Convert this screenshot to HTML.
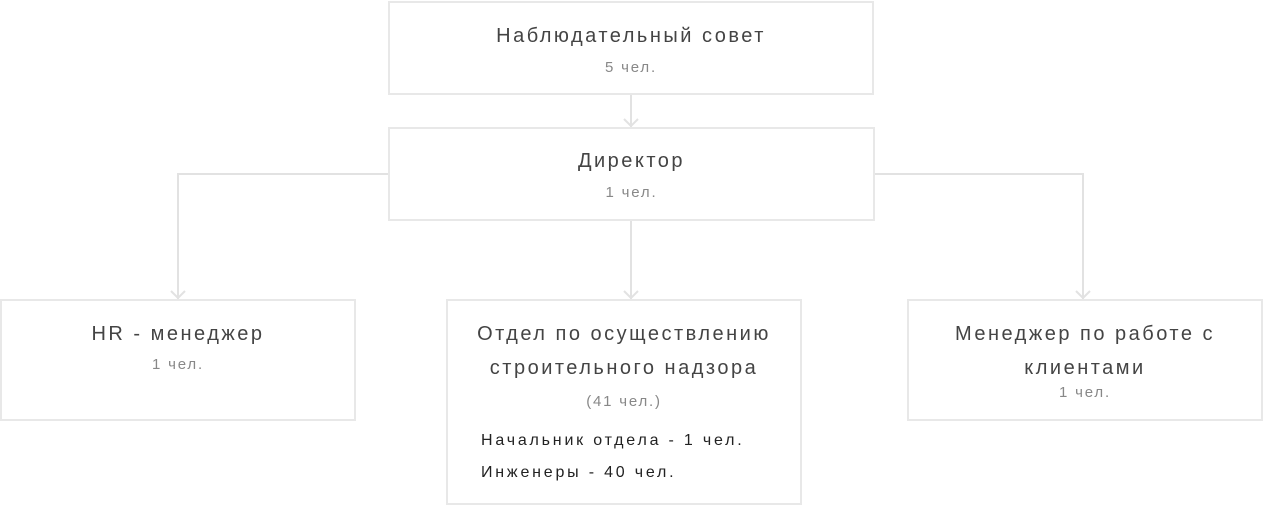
<!DOCTYPE html>
<html><head><meta charset="utf-8"><style>
html,body{margin:0;padding:0;background:#fff;width:1263px;height:506px;overflow:hidden;position:relative;font-family:"Liberation Sans","DejaVu Sans",sans-serif;}
.b{position:absolute;box-sizing:border-box;border:2px solid #e8e8e8;background:#fff;}
.t{position:absolute;left:0;right:0;text-align:center;color:#444;font-size:20px;letter-spacing:2.5px;line-height:24px;white-space:nowrap;}
.s{position:absolute;left:0;right:0;text-align:center;color:#888;font-size:15px;letter-spacing:1.8px;line-height:18px;}
.l{position:absolute;color:#222;font-size:16px;letter-spacing:2.8px;line-height:18px;white-space:nowrap;}
svg{position:absolute;left:0;top:0;}
</style></head><body>
<svg width="1263" height="506">
<g stroke="#e2e2e2" stroke-width="2" fill="none">
<path d="M631 94 V127"/><path d="M624 119 L631 126 L638 119"/>
<path d="M631 212 V299"/><path d="M624 291 L631 298 L638 291"/>
<path d="M388 174 H178 V299"/><path d="M171 291 L178 298 L185 291"/>
<path d="M874 174 H1083 V299"/><path d="M1076 291 L1083 298 L1090 291"/>
</g></svg>
<div class="b" style="left:388px;top:1px;width:486px;height:94px;">
<div class="t" style="top:21px">Наблюдательный совет</div>
<div class="s" style="top:56px">5 чел.</div></div>
<div class="b" style="left:388px;top:127px;width:487px;height:94px;">
<div class="t" style="top:20px">Директор</div>
<div class="s" style="top:55px">1 чел.</div></div>
<div class="b" style="left:0px;top:299px;width:356px;height:122px;">
<div class="t" style="top:21px">HR - менеджер</div>
<div class="s" style="top:55px">1 чел.</div></div>
<div class="b" style="left:446px;top:299px;width:356px;height:206px;">
<div class="t" style="top:21px">Отдел по осуществлению</div>
<div class="t" style="top:55px">строительного надзора</div>
<div class="s" style="top:92px">(41 чел.)</div>
<div class="l" style="left:33px;top:131px">Начальник отдела - 1 чел.</div>
<div class="l" style="left:33px;top:163px">Инженеры - 40 чел.</div></div>
<div class="b" style="left:907px;top:299px;width:356px;height:122px;">
<div class="t" style="top:21px">Менеджер по работе с</div>
<div class="t" style="top:55px">клиентами</div>
<div class="s" style="top:83px">1 чел.</div></div>
</body></html>
